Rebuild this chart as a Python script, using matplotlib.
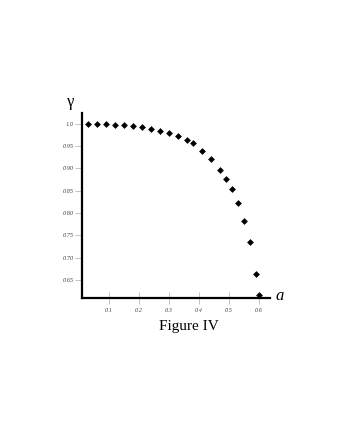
import matplotlib
matplotlib.use("Agg")
import matplotlib.pyplot as plt

a_vals = [0.03, 0.06, 0.09, 0.12, 0.15, 0.18, 0.21, 0.24, 0.27, 0.30, 0.33, 0.36,
          0.38, 0.41, 0.44, 0.47, 0.49, 0.51, 0.53, 0.55, 0.57, 0.59, 0.60]
gamma_vals = [0.999, 0.999, 0.999, 0.998, 0.997, 0.995, 0.992, 0.988, 0.984, 0.979,
              0.972, 0.963, 0.957, 0.939, 0.922, 0.897, 0.877, 0.853, 0.822, 0.783,
              0.734, 0.663, 0.616]
x_ticks = [0.1, 0.2, 0.3, 0.4, 0.5, 0.6]
x_tick_labels = ["0.1", "0.2", "0.3", "0.4", "0.5", "0.6"]
y_ticks = [1.0, 0.95, 0.90, 0.85, 0.80, 0.75, 0.70, 0.65]
y_tick_labels = ["1.0", "0.95", "0.90", "0.85", "0.80", "0.75", "0.70", "0.65"]

fig = plt.figure(figsize=(3.46, 4.48), dpi=100)
ax = fig.add_axes([0.237, 0.335, 0.543, 0.413])
ax.scatter(a_vals, gamma_vals, marker="D", s=12, color="black", linewidths=0, zorder=3)
ax.set_xlim(0.01, 0.637)
ax.set_ylim(0.6096, 1.0247)

for s in ["top", "right"]:
    ax.spines[s].set_visible(False)
for s in ["left", "bottom"]:
    ax.spines[s].set_linewidth(1.6)
    ax.spines[s].set_color("black")

ax.set_xticks(x_ticks)
ax.set_xticklabels(x_tick_labels)
ax.set_yticks(y_ticks)
ax.set_yticklabels(y_tick_labels)
ax.tick_params(axis="x", direction="inout", length=8, width=0.5, color="#aaaaaa",
               labelsize=4.5, labelcolor="#444444", pad=3)
ax.tick_params(axis="y", direction="out", length=5, width=0.5, color="#aaaaaa",
               labelsize=4.5, labelcolor="#444444", pad=1)
for lab in ax.get_xticklabels() + ax.get_yticklabels():
    lab.set_fontfamily("Liberation Serif")
    lab.set_fontstyle("italic")

fig.text(0.797, 0.339, "a", fontsize=12, fontstyle="italic", family="Liberation Serif",
         ha="left", va="center")
fig.text(0.203, 0.773, "γ", fontsize=12, family="Liberation Serif", ha="center", va="center")
fig.text(0.547, 0.272, "Figure IV", fontsize=11, family="Liberation Serif",
         ha="center", va="center")

fig.savefig("out.png", dpi=100)
